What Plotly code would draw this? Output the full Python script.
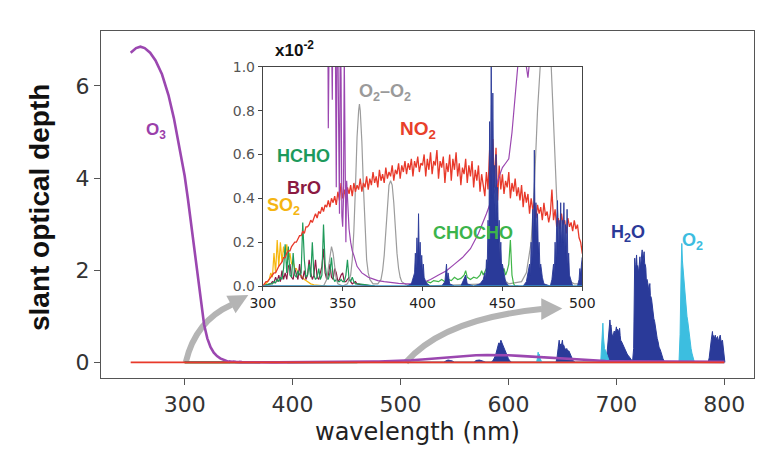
import plotly.graph_objects as go

# ---------------- data: slant optical depth in units of 1e-2 ----------------
O3 = [(250, 672), (255, 682), (259, 685), (263, 682), (268, 672), (273, 655), (279, 625),
      (285, 580), (290, 530), (295, 470), (300, 405), (303, 355), (306, 300), (309, 240),
      (312, 180), (315, 125), (318, 82), (321, 52), (324, 33), (327, 21), (330, 13.5),
      (333, 8.5), (336, 5.5), (338, 3.5), (339, 4.0), (340, 2.4), (341, 0.72), (341.5, 1.9),
      (342, 1.5), (343, 1.15), (343.5, 0.85), (344, 1.4), (345, 1.6), (346, 0.45),
      (346.5, 1.25), (347, 1.1), (347.5, 0.6), (348, 0.33), (348.5, 1.2), (349, 0.95),
      (349.5, 0.32), (350, 0.27), (350.5, 0.4), (351, 1.05), (351.5, 0.62), (352, 0.2),
      (352.5, 0.48), (353, 0.38), (354, 0.26), (355, 0.2), (356, 0.16), (357, 0.14),
      (358, 0.11), (359, 0.09), (360, 0.08), (362, 0.06), (364, 0.05), (366, 0.04),
      (368, 0.035), (372, 0.025), (376, 0.02), (380, 0.015), (385, 0.012), (390, 0.01),
      (395, 0.01), (400, 0.015), (405, 0.03), (410, 0.05), (415, 0.07), (420, 0.10),
      (425, 0.13), (430, 0.17), (435, 0.24), (440, 0.33), (445, 0.43), (448, 0.50),
      (450, 0.54), (452, 0.56), (454, 0.58), (456, 0.70), (458, 0.90), (460, 1.10),
      (462, 1.20), (464, 1.05), (466, 0.95), (468, 1.10), (470, 1.3), (475, 1.6), (480, 1.9),
      (485, 2.2), (490, 2.6), (500, 3.3), (510, 4.5), (520, 6), (530, 8), (540, 10),
      (550, 12), (560, 14), (570, 15.5), (580, 16), (590, 16), (600, 15.5), (610, 14),
      (620, 12.5), (630, 11), (640, 10), (650, 9), (660, 7), (670, 5), (680, 4), (690, 3),
      (700, 2.5), (720, 2), (750, 1.5), (800, 1)]

NO2_GRID_NM = list(range(300, 501))
NO2_GRID_VAL = [
    0.00, 0.01, 0.02, 0.02, 0.03, 0.04, 0.05, 0.06, 0.06, 0.08,
    0.09, 0.10, 0.11, 0.13, 0.13, 0.15, 0.16, 0.16, 0.18, 0.19,
    0.20, 0.20, 0.22, 0.23, 0.23, 0.25, 0.24, 0.27, 0.27, 0.28,
    0.30, 0.29, 0.31, 0.33, 0.31, 0.34, 0.33, 0.36, 0.34, 0.37,
    0.36, 0.39, 0.36, 0.40, 0.38, 0.41, 0.37, 0.43, 0.39, 0.47,
    0.40, 0.44, 0.39, 0.45, 0.42, 0.46, 0.41, 0.47, 0.43, 0.46,
    0.44, 0.49, 0.43, 0.47, 0.45, 0.50, 0.44, 0.49, 0.46, 0.52,
    0.47, 0.50, 0.45, 0.53, 0.48, 0.51, 0.47, 0.54, 0.49, 0.52,
    0.50, 0.55, 0.48, 0.53, 0.51, 0.56, 0.49, 0.55, 0.52, 0.57,
    0.51, 0.56, 0.53, 0.58, 0.50, 0.57, 0.54, 0.59, 0.52, 0.56,
    0.55, 0.60, 0.50, 0.58, 0.53, 0.61, 0.51, 0.57, 0.55, 0.62,
    0.49, 0.57, 0.54, 0.59, 0.47, 0.56, 0.52, 0.60, 0.48, 0.58,
    0.53, 0.61, 0.50, 0.56, 0.46, 0.54, 0.51, 0.58, 0.47, 0.55,
    0.50, 0.57, 0.45, 0.53, 0.48, 0.55, 0.43, 0.51, 0.46, 0.41,
    0.52, 0.44, 0.62, 0.40, 0.67, 0.45, 0.63, 0.39, 0.55, 0.44,
    0.51, 0.42, 0.48, 0.45, 0.52, 0.40, 0.47, 0.43, 0.49, 0.41,
    0.45, 0.39, 0.46, 0.36, 0.43, 0.38, 0.42, 0.33, 0.40, 0.35,
    0.38, 0.31, 0.37, 0.33, 0.36, 0.30, 0.38, 0.32, 0.34, 0.29,
    0.33, 0.44, 0.30, 0.35, 0.27, 0.31, 0.26, 0.33, 0.28, 0.30,
    0.24, 0.31, 0.27, 0.29, 0.25, 0.30, 0.26, 0.28, 0.22, 0.20,
    0.15]
NO2_OUTER = [(250, 0.0), (280, 0.0), (520, 0.12), (560, 0.08), (600, 0.05),
             (650, 0.03), (700, 0.02), (750, 0.01), (800, 0.01)]

SO2 = [(300, 0.0), (301, 0.005), (302, 0.01), (303, 0.02), (304, 0.03), (305, 0.06),
       (306, 0.04), (307, 0.15), (308, 0.06), (309, 0.21), (310, 0.09), (311, 0.20),
       (312, 0.11), (313, 0.18), (314, 0.13), (315, 0.19), (316, 0.12), (317, 0.15),
       (318, 0.10), (319, 0.11), (320, 0.08), (321, 0.08), (322, 0.06), (323, 0.055),
       (324, 0.045), (325, 0.04), (326, 0.03), (327, 0.025), (328, 0.02), (329, 0.015),
       (330, 0.01), (332, 0.006), (335, 0.003), (340, 0.0)]

BRO = [(300, 0.0), (302, 0.005), (304, 0.01), (305, 0.01), (306, 0.02), (307, 0.015),
       (308, 0.04), (309, 0.02), (310, 0.05), (311, 0.02), (312, 0.07), (313, 0.03),
       (314, 0.06), (315, 0.03), (316, 0.09), (317, 0.10), (318, 0.04), (319, 0.03),
       (320, 0.08), (321, 0.05), (322, 0.03), (323, 0.10), (324, 0.04), (325, 0.03),
       (326, 0.07), (327, 0.03), (328, 0.05), (329, 0.12), (330, 0.06), (331, 0.03),
       (332, 0.05), (333, 0.12), (334, 0.04), (335, 0.03), (336, 0.06), (337, 0.09),
       (338, 0.17), (339, 0.06), (340, 0.03), (341, 0.05), (342, 0.10), (343, 0.04),
       (344, 0.03), (345, 0.08), (346, 0.06), (347, 0.02), (348, 0.03), (349, 0.05),
       (350, 0.06), (351, 0.02), (352, 0.02), (353, 0.03), (354, 0.04), (355, 0.02),
       (356, 0.01), (357, 0.015), (358, 0.02), (359, 0.01), (360, 0.008), (362, 0.005),
       (365, 0.003), (370, 0.0)]

HCHO = [(300, 0.0), (302, 0.005), (304, 0.01), (306, 0.01), (307, 0.02), (308, 0.015),
        (309, 0.03), (310, 0.02), (311, 0.04), (312, 0.03), (313, 0.08), (314, 0.19),
        (315, 0.06), (316, 0.18), (317, 0.05), (318, 0.04), (319, 0.15), (320, 0.05),
        (321, 0.04), (322, 0.07), (323, 0.05), (324, 0.06), (325, 0.29), (326, 0.12),
        (327, 0.04), (328, 0.05), (329, 0.10), (330, 0.04), (331, 0.20), (332, 0.05),
        (333, 0.03), (334, 0.04), (335, 0.08), (336, 0.03), (337, 0.05), (338, 0.28),
        (339, 0.10), (340, 0.04), (341, 0.03), (342, 0.06), (343, 0.13), (344, 0.04),
        (345, 0.02), (346, 0.03), (347, 0.02), (348, 0.02), (349, 0.03), (350, 0.02),
        (351, 0.02), (352, 0.05), (353, 0.12), (354, 0.03), (355, 0.02), (356, 0.04),
        (357, 0.02), (358, 0.01), (360, 0.01), (365, 0.005), (370, 0.0)]

O4 = [(300, 0.0), (338, 0.0), (340, 0.03), (341, 0.08), (342, 0.14), (343, 0.18),
      (344, 0.15), (345, 0.08), (346, 0.03), (347, 0.01), (350, 0.0), (353, 0.01),
      (355, 0.05), (356, 0.12), (357, 0.25), (358, 0.45), (359, 0.68), (360, 0.80),
      (360.5, 0.83), (361, 0.80), (362, 0.66), (363, 0.45), (364, 0.25), (365, 0.12),
      (366, 0.06), (367, 0.03), (369, 0.01), (372, 0.01), (374, 0.03), (375, 0.07),
      (376, 0.14), (377, 0.26), (378, 0.38), (379, 0.46), (380, 0.48), (381, 0.46),
      (382, 0.38), (383, 0.26), (384, 0.15), (385, 0.08), (386, 0.04), (387, 0.02),
      (390, 0.005), (400, 0.0), (440, 0.01), (443, 0.04), (445, 0.12), (446, 0.18),
      (447, 0.20), (448, 0.16), (449, 0.09), (451, 0.03), (454, 0.01), (462, 0.02),
      (465, 0.06), (468, 0.20), (470, 0.45), (472, 0.80), (474, 1.15), (476, 1.35),
      (477, 1.40), (478, 1.35), (480, 1.10), (482, 0.75), (484, 0.40), (486, 0.18),
      (488, 0.08), (490, 0.03), (495, 0.01), (500, 0.01), (530, 0.05), (570, 0.2),
      (577, 0.8), (580, 0.2), (600, 0.05), (630, 0.6), (640, 0.05), (800, 0.0)]

CHOCHO = [(395, 0.0), (398, 0.01), (400, 0.015), (403, 0.02), (405, 0.015), (407, 0.025),
          (410, 0.02), (412, 0.03), (414, 0.02), (416, 0.03), (418, 0.025), (420, 0.04),
          (422, 0.03), (424, 0.035), (426, 0.05), (427, 0.07), (428, 0.04), (430, 0.03),
          (432, 0.04), (434, 0.035), (436, 0.05), (437, 0.07), (438, 0.05), (440, 0.08),
          (441, 0.11), (442, 0.06), (443, 0.05), (444, 0.08), (446, 0.05), (448, 0.04),
          (450, 0.06), (451, 0.08), (452, 0.05), (453, 0.07), (454, 0.10), (455, 0.21),
          (455.5, 0.12), (456, 0.05), (457, 0.01), (458, 0.0), (460, 0.0)]

H2O = [(300, 0.0), (390, 0.0), (393, 0.01), (394, 0.03), (395, 0.06), (395.5, 0.15),
       (396, 0.08), (396.5, 0.22), (397, 0.10), (397.5, 0.33), (398, 0.12), (398.5, 0.20),
       (399, 0.09), (399.5, 0.14), (400, 0.06), (400.5, 0.10), (401, 0.04), (402, 0.02),
       (403, 0.01), (405, 0.0), (412, 0.0), (414, 0.02), (415, 0.10), (415.5, 0.03),
       (416, 0.06), (417, 0.01), (420, 0.0), (424, 0.0), (426, 0.03), (427, 0.05),
       (428, 0.01), (432, 0.0), (436, 0.01), (438, 0.03), (439, 0.06), (439.5, 0.03),
       (440, 0.12), (440.5, 0.08), (441, 0.30), (441.5, 0.15), (442, 0.75), (442.5, 0.35),
       (443, 1.05), (443.5, 0.40), (444, 0.88), (444.5, 0.45), (445, 0.55), (445.5, 0.30),
       (446, 0.60), (446.5, 0.35), (447, 0.45), (447.5, 0.20), (448, 0.30), (448.5, 0.12),
       (449, 0.20), (449.5, 0.08), (450, 0.10), (451, 0.05), (452, 0.02), (454, 0.0),
       (463, 0.0), (465, 0.02), (466, 0.06), (467, 0.10), (467.5, 0.05), (468, 0.20),
       (468.5, 0.10), (469, 0.35), (469.5, 0.20), (470, 0.62), (470.5, 0.25), (471, 0.38),
       (471.5, 0.20), (472, 0.33), (472.5, 0.15), (473, 0.20), (473.5, 0.08), (474, 0.10),
       (475, 0.04), (476, 0.01), (480, 0.0), (481, 0.03), (482, 0.10), (482.5, 0.05),
       (483, 0.20), (483.5, 0.10), (484, 0.30), (484.5, 0.39), (485, 0.15), (485.5, 0.30),
       (486, 0.20), (486.5, 0.38), (487, 0.18), (487.5, 0.30), (488, 0.20), (488.5, 0.38),
       (489, 0.15), (489.5, 0.28), (490, 0.12), (490.5, 0.35), (491, 0.10), (491.5, 0.15),
       (492, 0.05), (493, 0.02), (494, 0.0), (497, 0.0), (498, 0.03), (498.5, 0.08),
       (499, 0.05), (499.5, 0.10), (500, 0.13), (501, 0.05), (502, 0.0),
       (540, 0), (542, 3), (544, 5), (546, 4), (548, 3), (550, 0), (568, 0), (570, 4),
       (573, 5), (576, 3), (579, 0), (584, 0), (586, 5), (588, 15), (589, 25), (590, 35),
       (591, 42), (592, 40), (593, 48), (594, 42), (595, 36), (596, 30), (597, 22),
       (598, 18), (599, 12), (600, 8), (601, 4), (603, 0), (644, 0), (645, 10), (646, 30),
       (647, 48), (647.5, 36), (648, 40), (649, 36), (650, 48), (650.5, 36), (651, 38),
       (652, 32), (653, 27), (654, 30), (655, 24), (656, 25), (657, 19), (658, 15),
       (659, 8), (660, 3), (662, 0), (690, 0), (691, 10), (692, 40), (693, 70), (694, 92),
       (694.5, 78), (695, 81), (695.5, 68), (696, 60), (697, 58), (698, 68), (699, 62),
       (700, 77), (700.5, 68), (701, 72), (702, 66), (703, 74), (703.5, 58), (704, 48),
       (705, 44), (706, 38), (707, 32), (708, 30), (709, 23), (710, 18), (711, 15),
       (712, 12), (713, 8), (714, 5), (715, 2), (716, 30), (716.5, 120), (717, 226),
       (717.5, 195), (718, 212), (718.7, 233), (719.2, 205), (719.7, 210), (720.2, 204),
       (720.7, 190), (721.2, 212), (721.8, 229), (722.3, 205), (722.8, 220), (723.4, 235),
       (723.9, 244), (724.4, 215), (724.9, 225), (725.7, 240), (726.2, 215), (726.8, 212),
       (727.3, 204), (727.8, 175), (728.4, 180), (729.4, 168), (730, 155), (731, 171),
       (731.5, 145), (732.5, 139), (733.2, 120), (734, 117), (734.7, 95), (735.5, 88),
       (736.3, 72), (737.1, 67), (737.8, 52), (738.6, 45), (739.5, 33), (740.7, 27),
       (742, 14), (743.2, 8), (744.7, 0), (785, 0), (786, 10), (787, 35), (788, 50),
       (789, 67), (789.5, 52), (790, 58), (791, 52), (791.6, 59), (792.2, 50), (793, 54),
       (793.7, 56), (794.3, 45), (795, 50), (796.2, 59), (796.8, 48), (797.5, 46),
       (798.3, 48), (799, 35), (800, 22), (800.5, 0)]

O2 = [(300, 0), (500, 0), (626, 0), (627, 10), (627.5, 22), (628, 12), (628.5, 18),
      (629, 10), (630, 5), (631, 0), (685.5, 0), (686.5, 40), (687, 70), (687.5, 85),
      (688, 55), (688.5, 40), (689, 30), (690, 25), (691, 20), (692, 12), (693, 5),
      (694, 0), (758, 0), (759, 60), (760, 200), (760.6, 258), (761.2, 220), (762, 197),
      (762.6, 170), (763.1, 153), (763.8, 140), (764.6, 124), (765.4, 100), (766.2, 88),
      (767, 70), (767.7, 59), (768.5, 42), (769.2, 30), (770, 20), (770.7, 12),
      (772.3, 0), (800, 0)]

MAIN_XTICKS = [300, 400, 500, 600, 700, 800]
MAIN_YTICKS = [0, 2, 4, 6]
INSET_XTICKS = [300, 350, 400, 450, 500]
INSET_YTICKS = [0.0, 0.2, 0.4, 0.6, 0.8, 1.0]
INSET_YTICKTEXT = ["0.0", "0.2", "0.4", "0.6", "0.8", "1.0"]


def split(pairs):
    return [p[0] for p in pairs], [p[1] for p in pairs]


NO2 = sorted([(a, b) for a, b in zip(NO2_GRID_NM, NO2_GRID_VAL)] + NO2_OUTER)

SPECIES = {
    "O4": (O4, "#9c9c9c"),
    "SO2": (SO2, "#f6b70f"),
    "BrO": (BRO, "#8b1a44"),
    "HCHO": (HCHO, "#1f9a5a"),
    "CHOCHO": (CHOCHO, "#41b649"),
    "H2O": (H2O, "#2a3a99"),
    "O2": (O2, "#3cbee0"),
    "O3": (O3, "#9b47b0"),
    "NO2": (NO2, "#e8392a"),
}

fig = go.Figure()

# ---- main panel (values converted to slant optical depth) ----
for name in ["O4", "SO2", "BrO", "HCHO", "CHOCHO", "H2O", "O2", "O3", "NO2"]:
    pairs, color = SPECIES[name]
    xs, ys = split(pairs)
    ys = [v / 100.0 for v in ys]
    kw = {}
    width = 1.6
    if name in ("H2O", "O2"):
        kw = dict(fill="tozeroy", fillcolor=color)
        width = 1.0
    if name == "O3":
        width = 2.6
    fig.add_trace(go.Scatter(x=xs, y=ys, mode="lines", line=dict(color=color, width=width),
                             xaxis="x", yaxis="y", showlegend=False, hoverinfo="skip", **kw))

# ---- inset panel (values in units of 1e-2) ----
for name in ["SO2", "BrO", "HCHO", "O4", "NO2", "CHOCHO", "O3", "H2O", "O2"]:
    pairs, color = SPECIES[name]
    xs, ys = split(pairs)
    kw = {}
    width = 1.2
    if name == "H2O":
        kw = dict(fill="tozeroy", fillcolor=color)
        width = 0.9
    if name == "NO2":
        width = 1.3
    fig.add_trace(go.Scatter(x=xs, y=ys, mode="lines", line=dict(color=color, width=width),
                             xaxis="x2", yaxis="y2", showlegend=False, hoverinfo="skip", **kw))

# ---- curved grey arrows (main data coordinates) ----
ARROW = "#b4b4b4"
shapes = [
    dict(type="path", xref="x", yref="y", path="M 301,0 Q 310,0.9 343.5,1.25",
         line=dict(color=ARROW, width=6), layer="below"),
    dict(type="path", xref="x", yref="y", path="M 359,1.46 L 347.2,1.065 L 338.6,1.447 Z",
         fillcolor=ARROW, line=dict(width=0), layer="below"),
    dict(type="path", xref="x", yref="y", path="M 505,0 Q 540,0.95 631,1.155",
         line=dict(color=ARROW, width=6), layer="below"),
    dict(type="path", xref="x", yref="y", path="M 649.9,1.17 L 630.4,1.39 L 630.4,0.92 Z",
         fillcolor=ARROW, line=dict(width=0), layer="below"),
]

LBL = "Liberation Sans"
labels = [
    ("<b>O<sub>3</sub></b>", 0.0835, 0.712, "#9a40aa", 17),
    ("<b>HCHO</b>", 0.3096, 0.640, "#1d9a5c", 18),
    ("<b>BrO</b>", 0.311, 0.5476, "#8b1a42", 18),
    ("<b>SO<sub>2</sub></b>", 0.279, 0.4928, "#f5b512", 18),
    ("<b>O<sub>2</sub>–O<sub>2</sub></b>", 0.4355, 0.8242, "#9a9a9a", 18),
    ("<b>NO<sub>2</sub></b>", 0.4856, 0.7147, "#e8402a", 19),
    ("<b>CHOCHO</b>", 0.569, 0.418, "#3cb44b", 18),
    ("<b>H<sub>2</sub>O</b>", 0.8073, 0.415, "#2b3a98", 18),
    ("<b>O<sub>2</sub></b>", 0.9059, 0.3948, "#3cbde0", 18),
    ("<b>x10<sup>-2</sup></b>", 0.2959, 0.948, "#111111", 17),
]
annotations = [dict(text=t, x=x, y=y, xref="paper", yref="paper", showarrow=False,
                    xanchor="center", yanchor="middle", font=dict(family=LBL, size=s, color=c))
               for t, x, y, c, s in labels]
annotations.append(dict(text="wavelength (nm)", x=0.4848, y=-0.1556, xref="paper", yref="paper",
                        showarrow=False, xanchor="center", yanchor="middle",
                        font=dict(family="DejaVu Sans", size=24, color="#222")))
annotations.append(dict(text="<b>slant optical depth</b>", x=-0.0933, y=0.49, xref="paper",
                        yref="paper", showarrow=False, textangle=-90, xanchor="center",
                        yanchor="middle", font=dict(family=LBL, size=28, color="#111")))

axis_common = dict(showgrid=False, zeroline=False, showline=True, mirror=True, ticks="outside")

# page body has an 8 px default margin, so the figure is drawn 8 px in from the corner
fig.update_layout(
    width=771, height=450,
    margin=dict(l=93, r=19, t=23, b=80),
    paper_bgcolor="white", plot_bgcolor="white",
    shapes=shapes, annotations=annotations,
    xaxis=dict(domain=[0, 1], range=[222.5, 827.5], tickvals=MAIN_XTICKS, linecolor="#555",
               linewidth=1.3, tickcolor="#555", ticklen=6, tickwidth=1.2,
               tickfont=dict(family="DejaVu Sans", size=22, color="#333"), **axis_common),
    yaxis=dict(domain=[0, 1], range=[-0.34, 7.19], tickvals=MAIN_YTICKS, linecolor="#555",
               linewidth=1.3, tickcolor="#555", ticklen=6, tickwidth=1.2,
               tickfont=dict(family="DejaVu Sans", size=22, color="#333"), **axis_common),
    xaxis2=dict(domain=[0.2478, 0.737], anchor="y2", range=[300, 500], tickvals=INSET_XTICKS,
                linecolor="#444", linewidth=1, tickcolor="#444", ticklen=4,
                tickfont=dict(family="DejaVu Sans", size=14, color="#222"), **axis_common),
    yaxis2=dict(domain=[0.265, 0.897], anchor="x2", range=[0, 1.0], tickvals=INSET_YTICKS,
                ticktext=INSET_YTICKTEXT, linecolor="#444", linewidth=1, tickcolor="#444",
                ticklen=4, tickfont=dict(family="DejaVu Sans", size=14, color="#555"),
                **axis_common),
)

fig.write_html("out.html")
